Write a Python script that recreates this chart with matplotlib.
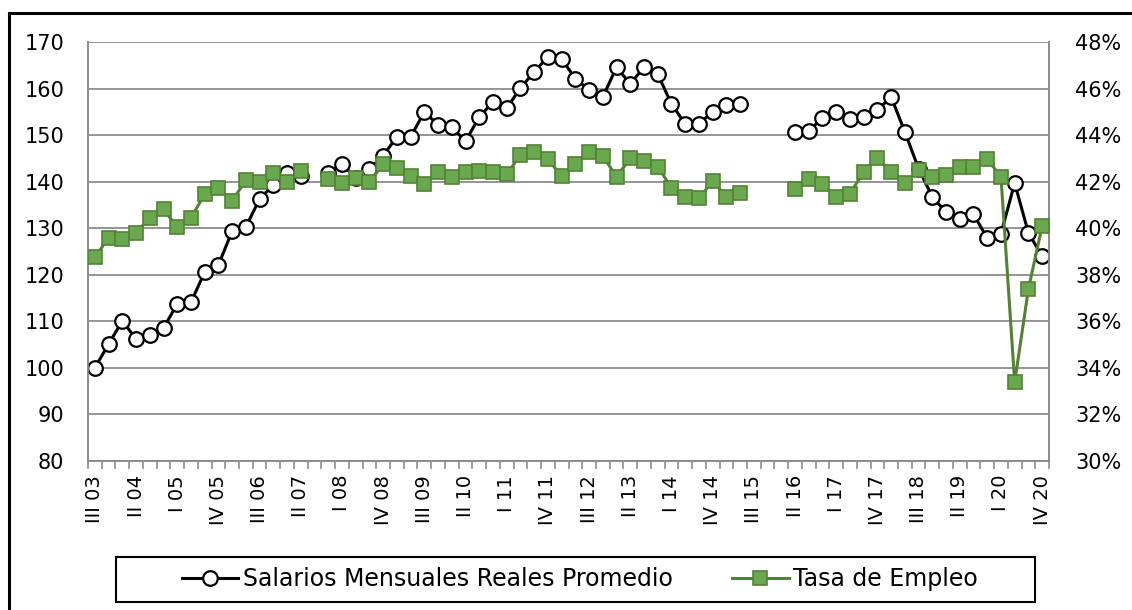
import matplotlib
matplotlib.use("Agg")
import matplotlib.pyplot as plt
import matplotlib.patches as patches
from matplotlib.ticker import FuncFormatter
import numpy as np

plt.rcParams['font.family'] = ['DejaVu Sans']

# quarters III 03 .. IV 20 (70 quarters)
roman = ['I', 'II', 'III', 'IV']
quarters = []
for year in range(2003, 2021):
    for q in range(4):
        if year == 2003 and q < 2:
            continue
        quarters.append(f"{roman[q]} {year % 100:02d}")

nan = np.nan
salarios = [
    100.0, 105.1, 110.1, 106.2, 107.1, 108.6, 113.7, 114.1, 120.6, 122.1,
    129.4, 130.3, 136.3, 139.3, 141.9, 141.2, nan, 141.8, 143.8, 140.8,
    142.7, 145.6, 149.6, 149.6, 155.0, 152.2, 151.7, 148.7, 153.9, 157.1,
    155.8, 160.1, 163.6, 166.8, 166.4, 162.1, 159.7, 158.2, 164.6, 161.0,
    164.6, 163.1, 156.7, 152.4, 152.4, 155.0, 156.5, 156.7, nan, nan,
    nan, 150.7, 150.9, 153.7, 155.0, 153.5, 153.9, 155.4, 158.2, 150.7,
    142.8, 136.7, 133.5, 132.0, 133.0, 127.9, 128.8, 139.7, 129.0, 124.0,
]
empleo = [
    38.75, 39.59, 39.52, 39.81, 40.45, 40.81, 40.06, 40.45, 41.46, 41.71,
    41.17, 42.07, 41.97, 42.36, 42.00, 42.47, nan, 42.10, 41.96, 42.14,
    41.97, 42.76, 42.57, 42.24, 41.89, 42.43, 42.21, 42.43, 42.47, 42.43,
    42.33, 43.14, 43.29, 42.96, 42.24, 42.76, 43.29, 43.10, 42.21, 43.00,
    42.90, 42.64, 41.74, 41.35, 41.28, 42.03, 41.35, 41.50, nan, nan,
    nan, 41.67, 42.10, 41.90, 41.33, 41.47, 42.43, 43.03, 42.43, 41.93,
    42.50, 42.21, 42.29, 42.62, 42.62, 42.97, 42.21, 33.38, 37.39, 40.09,
]

x = np.arange(len(quarters))
grid_col = '#8c8c8c'
green_face = '#6aa84f'
green_edge = '#548235'

fig = plt.figure(figsize=(11.32, 6.10), dpi=100)
ax = fig.add_axes([88 / 1132, 1 - 461 / 610, (1049 - 88) / 1132, (461 - 42) / 610])
ax2 = ax.twinx()

l1, = ax.plot(x, salarios, color='black', lw=2.2, marker='o', ms=10.5,
              mfc='white', mec='black', mew=1.6, zorder=3,
              label='Salarios Mensuales Reales Promedio')
l2, = ax2.plot(x, np.array(empleo) / 100, color=green_edge, lw=2.2, marker='s', ms=10,
               mfc=green_face, mec=green_edge, mew=1.2, zorder=3,
               label='Tasa de Empleo')

ax.set_ylim(80, 170)
ax.set_yticks(np.arange(80, 171, 10))
ax2.set_ylim(0.30, 0.48)
ax2.set_yticks(np.arange(0.30, 0.481, 0.02))
ax2.yaxis.set_major_formatter(FuncFormatter(lambda v, p: f"{v * 100:.0f}%"))
ax.set_xlim(-0.5, len(quarters) - 0.5)

ax.yaxis.grid(True, color=grid_col, lw=1.3)
ax.set_axisbelow(True)
for a in (ax, ax2):
    for s in a.spines.values():
        s.set_color(grid_col)
        s.set_linewidth(1.3)
    a.spines['top'].set_visible(False)
    a.tick_params(axis='y', length=0, labelsize=15, colors='black')
ax.tick_params(axis='y', pad=17)
ax2.tick_params(axis='y', pad=19)

ax.set_xticks(x[::3])
ax.set_xticklabels(quarters[::3], rotation=90, fontsize=14)
ax.set_xticks(np.arange(-0.5, len(quarters)), minor=True)
ax.tick_params(axis='x', which='major', length=0, pad=10)
ax.tick_params(axis='x', which='minor', length=6, color=grid_col, width=1.2)

leg = fig.legend(handles=[l1, l2], loc='center', ncol=2,
                 bbox_to_anchor=(580 / 1132, 1 - 579 / 610), fontsize=17,
                 frameon=False, handlelength=2.4, columnspacing=2.5,
                 handletextpad=0.2)

# legend box and outer chart frame
fig.patches.append(patches.Rectangle((116 / 1132, 1 - 602 / 610), 919 / 1132, 45 / 610,
                                     transform=fig.transFigure, fill=False,
                                     edgecolor='black', lw=1.5))
fig.patches.append(patches.Rectangle((9 / 1132, -0.1), 1.2, 1 - 13 / 610 + 0.1,
                                     transform=fig.transFigure, fill=False,
                                     edgecolor='black', lw=2.2))

fig.savefig('out.png', dpi=100)
